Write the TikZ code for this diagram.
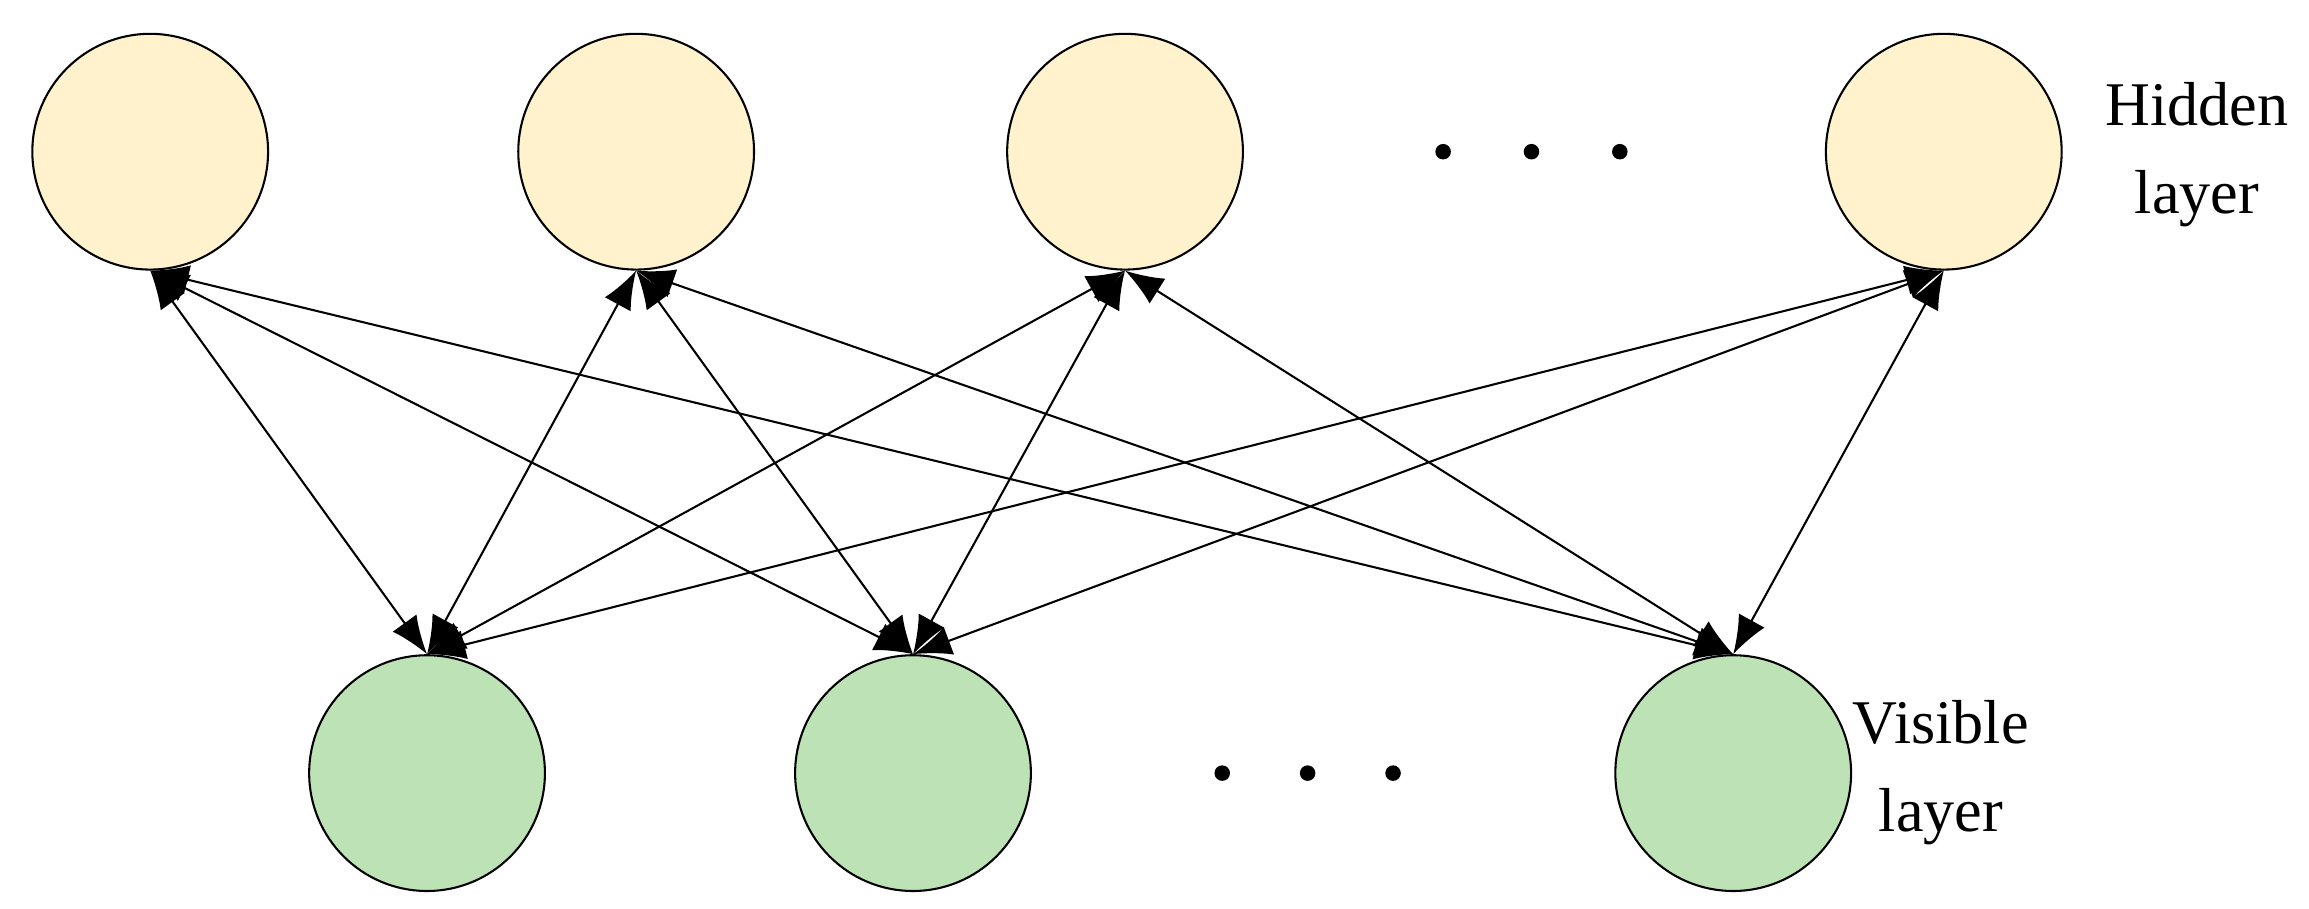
\documentclass[tikz,border=0pt]{standalone}
\usepackage{fontspec}
\setmainfont{Liberation Serif}
\usetikzlibrary{arrows.meta}
\definecolor{hidfill}{HTML}{FFF2CC}
\definecolor{visfill}{HTML}{BDE2B6}
\begin{document}
\begin{tikzpicture}[x=0.01cm,y=-0.01cm,line cap=round,
	unit/.style={circle,draw,thin,minimum size=1.6cm,inner sep=0pt},
	link/.style={{Latex[length=2.6mm,width=2mm]}-{Latex[length=2.6mm,width=2mm]},thin},
	lbl/.style={align=center,font=\fontsize{12}{17}\selectfont}]
		\useasboundingbox (0,0) rectangle (1568,617);
		\node[unit,fill=hidfill] (h1) at (102,103) {};
		\node[unit,fill=hidfill] (h2) at (432,103) {};
		\node[unit,fill=hidfill] (h3) at (764,103) {};
		\node[unit,fill=hidfill] (h4) at (1320,103) {};
		\node[unit,fill=visfill] (v1) at (290,525) {};
		\node[unit,fill=visfill] (v2) at (620,525) {};
		\node[unit,fill=visfill] (v3) at (1177,525) {};
		\fill (980,103) circle (1.5pt) (1040,103) circle (1.5pt) (1100,103) circle (1.5pt);
		\fill (830,525) circle (1.5pt) (888,525) circle (1.5pt) (946,525) circle (1.5pt);
		\node[lbl] (hl) at (1492,105) {Hidden\\layer};
		\node[lbl] (vl) at (1318,525) {Visible\\layer};
		\foreach \h in {1,2,3,4}
			\foreach \v in {1,2,3}
				\draw[link] (h\h.south) -- (v\v.north);
	\end{tikzpicture}
\end{document}
